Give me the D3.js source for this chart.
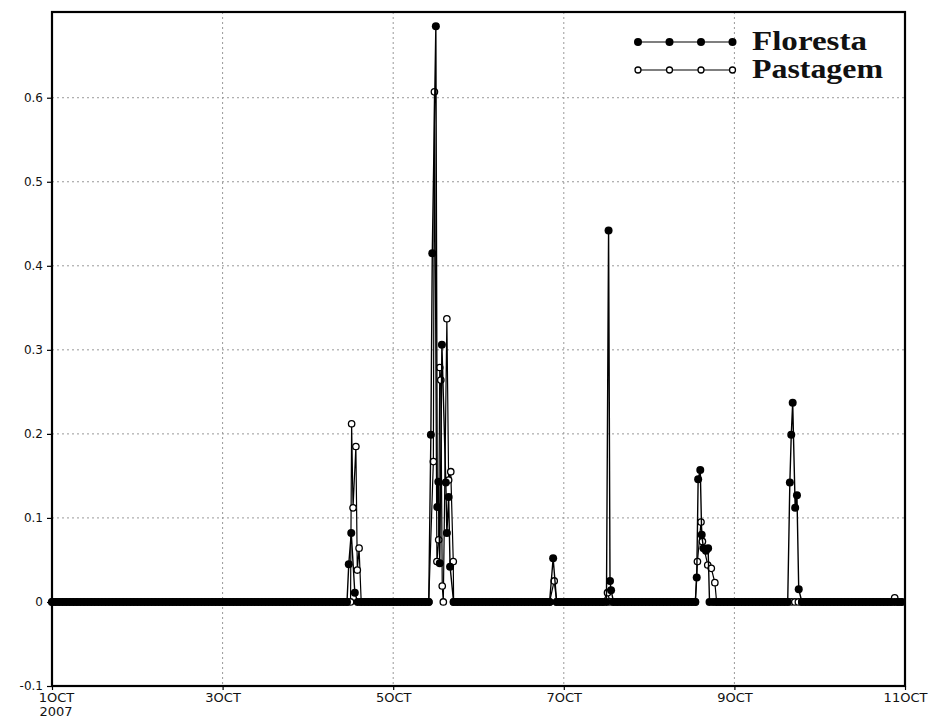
<!DOCTYPE html>
<html lang='en'>
<head>
	<meta charset='utf-8'>
	<title>Floresta x Pastagem - OCT 2007</title>
	<script type='text/javascript' src='https://cdn.jsdelivr.net/npm/d3@7'></script>
	<style>body{margin:0;background:#fff;}</style>
</head>
<body>
<script type='text/javascript'>
// time in hours since 1 OCT 2007 00:00

// hourly zero readings, [first hour, last hour]
var flo_dry = [[0,83],[86,106],[113,140],[142,156],[158,181],[185,207],[211,239]];
var pas_dry = [[0,84],[87,106],[113,140],[142,155],[157,181],[187,236],[238,239]];

// non zero readings
var flo_t = [83.5, 84.2, 85.2,
	106.6, 107.0, 108.0, 108.4, 108.7, 109.1, 109.7, 110.8, 111.1, 111.6, 112.0,
	141.0,
	156.6, 157.0, 157.3,
	181.4, 181.8, 182.4, 182.8, 183.3, 184.0, 184.6,
	207.6, 208.0, 208.4, 209.1, 209.6, 210.1];
var flo_v = [0.045, 0.082, 0.011,
	0.199, 0.415, 0.685, 0.113, 0.143, 0.046, 0.306, 0.142, 0.082, 0.125, 0.042,
	0.052,
	0.442, 0.025, 0.014,
	0.029, 0.146, 0.157, 0.080, 0.064, 0.061, 0.064,
	0.142, 0.199, 0.237, 0.112, 0.127, 0.015];

var pas_t = [84.3, 84.7, 85.5, 85.9, 86.4,
	107.3, 107.6, 108.3, 108.8, 109.1, 109.4, 109.8, 110.1, 111.1, 111.6, 112.2, 112.9,
	141.3,
	156.3,
	181.6, 182.6, 183.0, 184.5, 185.5, 186.5,
	237.1];
var pas_v = [0.212, 0.112, 0.185, 0.038, 0.064,
	0.167, 0.607, 0.048, 0.074, 0.279, 0.264, 0.019, 0.0, 0.337, 0.145, 0.155, 0.048,
	0.025,
	0.011,
	0.048, 0.095, 0.072, 0.044, 0.040, 0.023,
	0.005];

var x_ticks = [0, 48, 96, 144, 192, 240];
var x_labels = ['1OCT', '3OCT', '5OCT', '7OCT', '9OCT', '11OCT'];
var y_ticks = [-0.1, 0, 0.1, 0.2, 0.3, 0.4, 0.5, 0.6];
var y_labels = ['-0.1', '0', '0.1', '0.2', '0.3', '0.4', '0.5', '0.6'];
var series_names = ['Floresta', 'Pastagem'];

function build(dry, t, v) {
	var pts = [];
	dry.forEach(function(s) {
		for (var h = s[0]; h <= s[1]; h++) pts.push({t: h, v: 0});
	});
	t.forEach(function(d, i) { pts.push({t: d, v: v[i]}); });
	pts.sort(function(a, b) { return a.t - b.t; });
	return pts;
}

var width = 929, height = 720;
var p_left = 52, p_right = 905, p_top = 12, p_bottom = 686;

var svg = d3.select('body').append('svg').attr('width', width).attr('height', height);

var x = d3.scaleLinear().domain([0, 240]).range([p_left, p_right]);
var y = d3.scaleLinear().domain([-0.1, 0.702]).range([p_bottom, p_top]);

// dotted grid
svg.append('g').selectAll('line').data(x_ticks.slice(1, -1)).enter().append('line')
	.attr('x1', d => x(d)).attr('x2', d => x(d)).attr('y1', p_top).attr('y2', p_bottom)
	.attr('stroke', '#999').attr('stroke-dasharray', '2,3');
svg.append('g').selectAll('line').data(y_ticks.filter(d => d > 0)).enter().append('line')
	.attr('x1', p_left).attr('x2', p_right).attr('y1', d => y(d)).attr('y2', d => y(d))
	.attr('stroke', '#999').attr('stroke-dasharray', '2,3');

// axes
var yax = svg.append('g').attr('transform', 'translate(' + p_left + ',0)')
	.call(d3.axisLeft(y).tickValues(y_ticks).tickSize(5).tickPadding(4)
		.tickFormat((d, i) => y_labels[i]));
var xax = svg.append('g').attr('transform', 'translate(0,' + p_bottom + ')')
	.call(d3.axisBottom(x).tickValues(x_ticks).tickSize(4).tickPadding(3)
		.tickFormat((d, i) => x_labels[i]));
yax.select('.domain').remove();
xax.select('.domain').remove();
svg.selectAll('.tick line').attr('stroke', '#000').attr('stroke-width', 1.2);
yax.selectAll('text').attr('font-family', 'DejaVu Sans').attr('font-size', '12px').attr('fill', '#111');
xax.selectAll('text').attr('font-family', 'DejaVu Sans').attr('font-size', '13px').attr('fill', '#111');
xax.selectAll('text').filter((d, i) => i == 0).attr('x', 4);
svg.append('text').text('2007')
	.attr('x', x(0) + 4).attr('y', p_bottom + 30)
	.attr('text-anchor', 'middle').attr('font-family', 'DejaVu Sans').attr('font-size', '13px').attr('fill', '#111');

var line = d3.line().x(d => x(d.t)).y(d => y(d.v));

var pas = build(pas_dry, pas_t, pas_v);
var flo = build(flo_dry, flo_t, flo_v);

// Pastagem: open circles
svg.append('path').datum(pas).attr('d', line)
	.attr('fill', 'none').attr('stroke', '#000').attr('stroke-width', 1.2);
svg.append('g').selectAll('circle').data(pas).enter().append('circle')
	.attr('cx', d => x(d.t)).attr('cy', d => y(d.v)).attr('r', 3.2)
	.attr('fill', '#fff').attr('stroke', '#000').attr('stroke-width', 1.3);

// Floresta: filled circles
svg.append('path').datum(flo).attr('d', line)
	.attr('fill', 'none').attr('stroke', '#000').attr('stroke-width', 1.4);
svg.append('g').selectAll('circle').data(flo).enter().append('circle')
	.attr('cx', d => x(d.t)).attr('cy', d => y(d.v)).attr('r', 4)
	.attr('fill', '#000');

// frame
svg.append('rect').attr('x', p_left).attr('y', p_top).attr('width', p_right - p_left).attr('height', p_bottom - p_top)
	.attr('fill', 'none').attr('stroke', '#000').attr('stroke-width', 2.2);

// legend
var lg_x = [638, 669.5, 701, 732.5];
var lg_y = [42, 70];
var lg_len = [115, 131];
series_names.forEach(function(name, i) {
	var g = svg.append('g');
	g.append('line').attr('x1', lg_x[0]).attr('x2', lg_x[3]).attr('y1', lg_y[i]).attr('y2', lg_y[i])
		.attr('stroke', '#000').attr('stroke-width', 1.2);
	g.selectAll('circle').data(lg_x).enter().append('circle')
		.attr('cx', d => d).attr('cy', lg_y[i])
		.attr('r', i == 0 ? 4 : 3)
		.attr('fill', i == 0 ? '#000' : '#fff')
		.attr('stroke', '#000').attr('stroke-width', i == 0 ? 0 : 1.3);
	g.append('text').text(name)
		.attr('x', 752).attr('y', lg_y[i] + 8)
		.attr('font-family', 'Liberation Serif').attr('font-weight', 'bold').attr('font-size', '27px')
		.attr('textLength', lg_len[i]).attr('lengthAdjust', 'spacingAndGlyphs')
		.attr('fill', '#111');
});
</script>
</body>
</html>
